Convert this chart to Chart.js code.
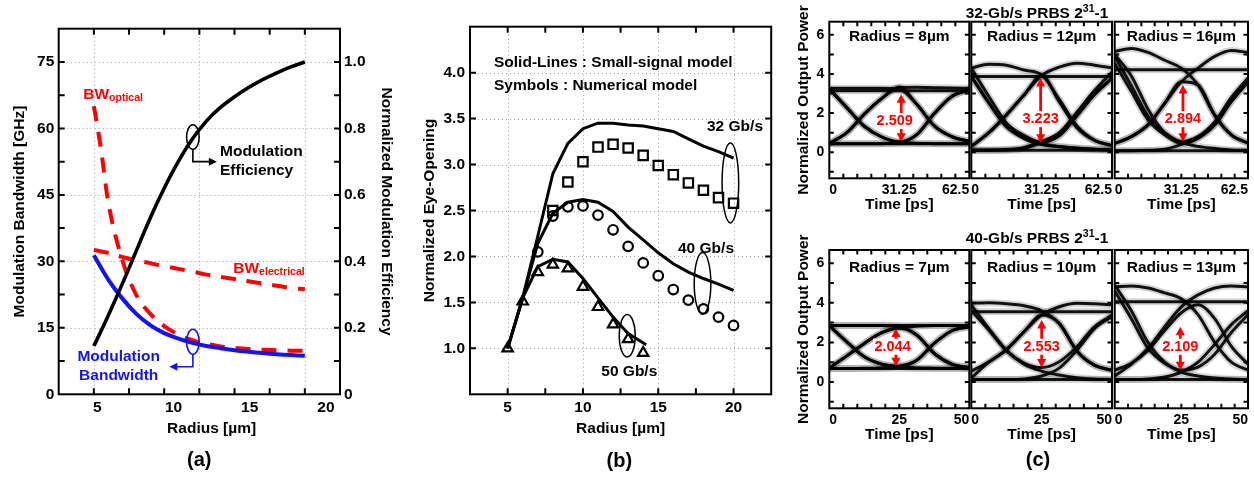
<!DOCTYPE html>
<html><head><meta charset="utf-8">
<script src="https://cdn.jsdelivr.net/npm/chart.js@4.4.1/dist/chart.umd.min.js"></script>
<style>
html,body{margin:0;padding:0;background:#fff;overflow:hidden;}
#wrap{position:relative;width:1254px;height:477px;background:#fff;overflow:hidden;}
canvas{position:absolute;display:block;}
</style></head>
<body><div id="wrap">
<canvas id="cA" width="420" height="477" style="left:0;top:0;width:420px;height:477px"></canvas>
<canvas id="cB" width="360" height="477" style="left:420px;top:0;width:360px;height:477px"></canvas>
<canvas id="e0" width="474" height="232" style="left:780px;top:0;width:474px;height:232px"></canvas>
<canvas id="e1" width="474" height="232" style="left:780px;top:0;width:474px;height:232px"></canvas>
<canvas id="e2" width="474" height="232" style="left:780px;top:0;width:474px;height:232px"></canvas>
<canvas id="e3" width="474" height="252" style="left:780px;top:225px;width:474px;height:252px"></canvas>
<canvas id="e4" width="474" height="252" style="left:780px;top:225px;width:474px;height:252px"></canvas>
<canvas id="e5" width="474" height="252" style="left:780px;top:225px;width:474px;height:252px"></canvas>
</div>
<script>
// ===================== DATA =====================
// Panel (a)
const radiusA = [5,6,7,8,9,10,11,12,13,14,15,16,17,18,19,20];
const modEfficiency = [0.145,0.235,0.33,0.43,0.53,0.62,0.70,0.768,0.822,0.863,0.895,0.923,0.947,0.967,0.985,1.0];
const modBandwidth = [31.4,26.0,21.7,18.2,15.6,13.8,12.6,11.6,10.9,10.4,9.95,9.6,9.3,9.05,8.85,8.7];
const radiusOptical = [5,5.5,6,7,8,9,10,11,12,13,14,15,16,17,18,19,20];
const bwOptical = [65,55.5,43.8,30.5,22.5,18.2,15.4,13.5,12.2,11.4,10.8,10.5,10.2,10.05,9.95,9.85,9.8];
const bwElectrical = [32.6,31.9,31.0,30.2,29.6,28.9,28.3,27.7,27.0,26.5,26.0,25.5,25.0,24.5,24.0,23.7];
const bwTicks = [0,15,30,45,60,75];
const bwMinorTicks = [7.5,15,22.5,30,37.5,45,52.5,60,67.5,75];
const effTicks = [0,0.2,0.4,0.6,0.8,1.0];
const radiusTicks = [5,10,15,20];
const radiusMinorTicks = [5,7.5,10,12.5,15,17.5,20];
const radiusGridA = [5,12.5,20];

// Panel (b)
const radiusB = [5,6,7,8,9,10,11,12,13,14,15,16,17,18,19,20];
const smallSignal32 = [1.0,1.55,2.22,2.90,3.23,3.39,3.45,3.45,3.43,3.42,3.39,3.36,3.28,3.20,3.14,3.07];
const smallSignal40 = [1.0,1.55,2.14,2.47,2.59,2.62,2.59,2.49,2.32,2.18,2.04,1.92,1.83,1.76,1.70,1.63];
const radius50 = [5,6,7,8,9,10,11,12,13,14.2];
const smallSignal50 = [1.0,1.55,1.89,1.97,1.94,1.76,1.55,1.34,1.16,1.04];
const radiusSquares = [8,9,10,11,12,13,14,15,16,17,18,19,20];
const numerical32 = [2.50,2.81,3.03,3.19,3.22,3.18,3.10,2.99,2.89,2.80,2.72,2.64,2.58];
const radiusCircles = [7,8,9,10,11,12,13,14,15,16,17,18,19,20];
const numerical40 = [2.05,2.44,2.54,2.55,2.45,2.29,2.11,1.93,1.79,1.64,1.525,1.43,1.34,1.25];
const radiusTriangles = [5,6,7,8,9,10,11,12,13,14];
const numerical50 = [1.0,1.51,1.83,1.91,1.87,1.67,1.45,1.26,1.10,0.95];
const eyeOpenTicks = [1.0,1.5,2.0,2.5,3.0,3.5,4.0];
const radiusGridB = [5,10,15,20];

// Panel (c) eye diagrams: each row of a trace list = one trace sampled on the time grid
const tGrid32 = [0,7.8125,15.625,23.4375,31.25,39.0625,46.875,54.6875,62.5];
const tGrid40 = [0,6.25,12.5,18.75,25,31.25,37.5,43.75,50];
const timeTicks32 = [0,6.25,12.5,18.75,25,31.25,37.5,43.75,50,56.25,62.5];
const timeLabels32 = [0,31.25,62.5];
const timeTicks40 = [0,5,10,15,20,25,30,35,40,45,50];
const timeLabels40 = [0,25,50];
const powerTicks = [-1,0,1,2,3,4,5,6];
const powerLabels = [0,2,4,6];

const eyeR8 = [
  [3.14,3.14,3.14,3.14,3.14,3.14,3.14,3.14,3.14],
  [0.43,0.43,0.43,0.43,0.43,0.43,0.43,0.43,0.43],
  [3.24,2.28,1.33,0.78,0.52,0.90,1.98,2.85,3.20],
  [0.45,1.00,1.95,2.75,3.33,2.45,1.35,0.80,0.55],
  [3.24,2.28,1.33,0.78,0.52,0.46,0.44,0.43,0.43],
  [0.45,1.00,1.95,2.75,3.30,3.32,3.30,3.28,3.27],
  [3.27,3.27,3.27,3.27,3.22,2.45,1.35,0.80,0.55],
  [0.43,0.43,0.43,0.44,0.50,0.90,1.98,2.85,3.20]
];
const eyeR12 = [
  [3.87,3.87,3.87,3.87,3.87,3.87,3.87,3.87,3.87],
  [0.10,0.10,0.10,0.10,0.10,0.10,0.10,0.10,0.10],
  [3.87,2.52,1.31,0.80,0.51,0.85,1.86,2.95,3.78],
  [0.30,1.00,1.91,2.93,3.92,2.58,1.25,0.60,0.34],
  [3.87,2.52,1.31,0.70,0.40,0.28,0.20,0.15,0.12],
  [0.30,1.00,1.91,2.93,3.92,4.35,4.55,4.45,4.30],
  [4.30,4.50,4.45,4.20,3.95,2.70,1.35,0.62,0.35],
  [0.10,0.10,0.12,0.20,0.50,0.85,1.86,2.95,3.78],
  [4.30,2.85,1.50,0.85,0.45,0.30,0.22,0.16,0.12],
  [0.12,0.12,0.14,0.25,0.55,1.00,2.05,3.15,4.10]
];
const eyeR16 = [
  [4.21,4.21,4.21,4.21,4.21,4.21,4.21,4.21,4.21],
  [0.08,0.08,0.08,0.08,0.08,0.08,0.08,0.08,0.08],
  [4.55,3.10,1.65,0.89,0.46,0.72,1.40,2.60,3.60],
  [0.45,0.80,1.40,2.50,3.60,3.44,1.90,0.89,0.46],
  [5.00,3.90,2.20,1.00,0.50,0.30,0.20,0.12,0.10],
  [0.45,0.80,1.40,2.50,3.60,4.30,4.90,5.20,5.10],
  [5.15,5.30,5.10,4.70,4.30,3.44,1.90,0.89,0.46],
  [0.08,0.08,0.10,0.15,0.40,0.72,1.40,2.60,3.60],
  [4.90,3.40,1.85,1.00,0.55,0.80,1.55,2.80,3.80]
];
const eyeR7 = [
  [2.85,2.85,2.85,2.85,2.85,2.85,2.85,2.85,2.85],
  [0.68,0.68,0.68,0.68,0.68,0.68,0.68,0.68,0.68],
  [2.85,2.03,1.27,0.90,0.80,1.10,1.95,2.59,2.79],
  [0.70,1.32,1.95,2.49,2.71,2.37,1.44,0.90,0.73],
  [2.85,2.03,1.27,0.90,0.78,0.72,0.70,0.69,0.68],
  [0.70,1.32,1.95,2.49,2.75,2.82,2.85,2.86,2.86],
  [2.85,2.85,2.86,2.85,2.80,2.37,1.44,0.90,0.73],
  [0.68,0.68,0.69,0.72,0.80,1.10,1.95,2.59,2.79]
];
const eyeR10 = [
  [3.55,3.55,3.55,3.55,3.55,3.55,3.55,3.55,3.55],
  [0.12,0.12,0.12,0.12,0.12,0.12,0.12,0.12,0.12],
  [3.60,2.62,1.57,0.96,0.73,1.02,1.78,2.79,3.38],
  [0.55,1.02,1.64,2.54,3.38,2.96,1.57,0.85,0.59],
  [3.90,2.70,1.60,0.90,0.55,0.35,0.22,0.15,0.13],
  [0.20,1.00,1.64,2.54,3.38,3.80,3.98,3.95,3.90],
  [3.98,4.00,3.95,3.85,3.60,2.96,1.57,0.85,0.59],
  [0.12,0.12,0.12,0.15,0.30,0.70,1.60,2.70,3.30]
];
const eyeR13 = [
  [4.05,4.05,4.05,4.05,4.05,4.05,4.05,4.05,4.05],
  [0.12,0.12,0.12,0.12,0.12,0.12,0.12,0.12,0.12],
  [4.60,3.20,1.70,0.95,0.60,0.75,1.40,2.50,3.40],
  [0.60,0.95,1.60,2.60,3.50,3.90,3.20,1.80,0.90],
  [4.90,3.60,2.00,1.00,0.50,0.30,0.20,0.15,0.12],
  [0.30,0.90,1.70,2.80,3.80,4.40,4.75,4.85,4.80],
  [4.80,4.85,4.75,4.50,4.20,3.40,2.00,1.00,0.60],
  [0.12,0.12,0.15,0.25,0.50,1.00,1.90,2.90,3.60]
];
const eyeTraces = [eyeR8, eyeR12, eyeR16, eyeR7, eyeR10, eyeR13];
const eyeRadiusLabels = ['Radius = 8\u00b5m','Radius = 12\u00b5m','Radius = 16\u00b5m','Radius = 7\u00b5m','Radius = 10\u00b5m','Radius = 13\u00b5m'];
const eyeOpeningLabels = ['2.509','3.223','2.894','2.044','2.553','2.109'];

// ===================== HELPERS =====================
const FF = "'Liberation Sans', Arial, Helvetica, sans-serif";
Chart.defaults.font.family = FF;
Chart.defaults.font.weight = 'bold';
Chart.defaults.color = '#000';
const F = (s) => ({family: FF, size: s, weight: 'bold', lineHeight: 1.2});
const xy = (xs, ys) => xs.map((x, i) => ({x: x, y: ys[i]}));
const fixedTicks = (vals) => (scale) => { scale.ticks = vals.map(v => ({value: v})); };
const noGrid = {display: false, drawTicks: false};
const noBorder = {display: false};
const RED = '#ff0000', BLUE = '#1414f0';

function txt(ctx, s, x, y, size, color, align, base) {
  ctx.save(); ctx.font = 'bold ' + size + 'px ' + FF; ctx.fillStyle = color || '#000';
  ctx.textAlign = align || 'center'; ctx.textBaseline = base || 'middle';
  ctx.fillText(s, x, y); ctx.restore();
}
function subTxt(ctx, main, sub, x, y, size, subSize, color, dy) {
  ctx.save(); ctx.fillStyle = color; ctx.textAlign = 'left'; ctx.textBaseline = 'alphabetic';
  ctx.font = 'bold ' + size + 'px ' + FF; ctx.fillText(main, x, y);
  const w = ctx.measureText(main).width;
  ctx.font = 'bold ' + subSize + 'px ' + FF; ctx.fillText(sub, x + w, y + dy); ctx.restore();
}
function supTitle(ctx, a, sup, b, cx, y, size, supSize, dy) {
  ctx.save(); ctx.fillStyle = '#000'; ctx.textAlign = 'left'; ctx.textBaseline = 'alphabetic';
  ctx.font = 'bold ' + size + 'px ' + FF; const wa = ctx.measureText(a).width, wb = ctx.measureText(b).width;
  ctx.font = 'bold ' + supSize + 'px ' + FF; const ws = ctx.measureText(sup).width;
  let x = cx - (wa + ws + wb) / 2;
  ctx.font = 'bold ' + size + 'px ' + FF; ctx.fillText(a, x, y); x += wa;
  ctx.font = 'bold ' + supSize + 'px ' + FF; ctx.fillText(sup, x, y - dy); x += ws;
  ctx.font = 'bold ' + size + 'px ' + FF; ctx.fillText(b, x, y); ctx.restore();
}
function ellipse(ctx, cx, cy, rx, ry, color, lw) {
  ctx.save(); ctx.strokeStyle = color; ctx.lineWidth = lw; ctx.setLineDash([]);
  ctx.beginPath(); ctx.ellipse(cx, cy, rx, ry, 0, 0, Math.PI * 2); ctx.stroke(); ctx.restore();
}
function head(ctx, x, y, dir, len, hw, color) {
  ctx.save(); ctx.fillStyle = color; ctx.beginPath();
  if (dir === 'up') { ctx.moveTo(x, y); ctx.lineTo(x - hw, y + len); ctx.lineTo(x + hw, y + len); }
  else if (dir === 'down') { ctx.moveTo(x, y); ctx.lineTo(x - hw, y - len); ctx.lineTo(x + hw, y - len); }
  else if (dir === 'left') { ctx.moveTo(x, y); ctx.lineTo(x + len, y - hw); ctx.lineTo(x + len, y + hw); }
  else { ctx.moveTo(x, y); ctx.lineTo(x - len, y - hw); ctx.lineTo(x - len, y + hw); }
  ctx.closePath(); ctx.fill(); ctx.restore();
}
function poly(ctx, pts, color, lw) {
  ctx.save(); ctx.strokeStyle = color; ctx.lineWidth = lw; ctx.setLineDash([]); ctx.beginPath();
  pts.forEach((p, i) => i ? ctx.lineTo(p[0], p[1]) : ctx.moveTo(p[0], p[1])); ctx.stroke(); ctx.restore();
}
function dottedGrid(chart, xs, xVals, ys, yVals) {
  const ctx = chart.ctx, a = chart.chartArea;
  ctx.save(); ctx.strokeStyle = '#9c9c9c'; ctx.lineWidth = 1; ctx.setLineDash([1, 3]); ctx.beginPath();
  for (const v of xVals) { const p = Math.round(xs.getPixelForValue(v)) + 0.5; ctx.moveTo(p, a.top); ctx.lineTo(p, a.bottom); }
  for (const v of yVals) { const p = Math.round(ys.getPixelForValue(v)) + 0.5; ctx.moveTo(a.left, p); ctx.lineTo(a.right, p); }
  ctx.stroke(); ctx.restore();
}
function frameTicks(chart, xs, xVals, ys, yVals, len, lw) {
  const ctx = chart.ctx, a = chart.chartArea;
  ctx.save(); ctx.strokeStyle = '#000'; ctx.lineWidth = lw || 2; ctx.setLineDash([]); ctx.beginPath();
  for (const v of xVals) { const p = xs.getPixelForValue(v); ctx.moveTo(p, a.bottom); ctx.lineTo(p, a.bottom - len); ctx.moveTo(p, a.top); ctx.lineTo(p, a.top + len); }
  for (const v of yVals) { const p = ys.getPixelForValue(v); ctx.moveTo(a.left, p); ctx.lineTo(a.left + len, p); ctx.moveTo(a.right, p); ctx.lineTo(a.right - len, p); }
  ctx.stroke();
  ctx.strokeRect(a.left, a.top, a.right - a.left, a.bottom - a.top);
  ctx.restore();
}
const baseOpts = {responsive: false, animation: false, devicePixelRatio: 1, events: []};
const noPlugins = {legend: {display: false}, tooltip: {enabled: false}};

// ===================== PANEL (a) =====================
const decoA = {
  id: 'decoA',
  beforeDatasetsDraw(chart) { dottedGrid(chart, chart.scales.x, radiusGridA, chart.scales.y, bwTicks.slice(1)); },
  afterDraw(chart) {
    const ctx = chart.ctx, x = chart.scales.x, y = chart.scales.y, y1 = chart.scales.y1, xl = chart.scales.xl;
    frameTicks(chart, x, radiusMinorTicks, y, bwMinorTicks, 6, 2);
    const ex = x.getPixelForValue(12.04), ey = y1.getPixelForValue(0.774);
    ellipse(ctx, ex, ey, 6.3, 12.3, '#000', 1.6);
    poly(ctx, [[ex, ey + 12.3], [ex, ey + 24.6], [ex + 17, ey + 24.6]], '#000', 1.6);
    head(ctx, ex + 24, ey + 24.6, 'right', 8, 4, '#000');
    txt(ctx, 'Modulation', 220, 151.7, 15.5, '#000', 'left');
    txt(ctx, 'Efficiency', 220, 170.7, 15.5, '#000', 'left');
    const bx = x.getPixelForValue(12.04), by = y.getPixelForValue(11.85);
    ellipse(ctx, bx, by, 6.3, 12.5, BLUE, 1.6);
    poly(ctx, [[bx, by + 12.5], [bx, by + 25], [bx - 16, by + 25]], BLUE, 1.6);
    head(ctx, bx - 23.5, by + 25, 'left', 8, 4, BLUE);
    txt(ctx, 'Modulation', 118.7, 356.7, 15.5, BLUE);
    txt(ctx, 'Bandwidth', 118.7, 375.7, 15.5, BLUE);
    subTxt(ctx, 'BW', 'optical', 83.3, 98.5, 15.5, 10.5, RED, 2);
    subTxt(ctx, 'BW', 'electrical', 233.3, 272.7, 15.5, 10.5, RED, 2);
    txt(ctx, 'Radius [\u00b5m]', xl.getPixelForValue(12.5), 428.3, 15.5, '#000');
    txt(ctx, '(a)', 199.3, 460, 20, '#000');
  }
};
new Chart(document.getElementById('cA'), {
  type: 'line',
  data: {datasets: [
    {data: xy(radiusA, modEfficiency), xAxisID: 'x', yAxisID: 'y1', borderColor: '#000', borderWidth: 3.6, pointRadius: 0, tension: 0.4},
    {data: xy(radiusA, modBandwidth), xAxisID: 'x', yAxisID: 'y', borderColor: BLUE, borderWidth: 4, pointRadius: 0, tension: 0.4},
    {data: xy(radiusOptical, bwOptical), xAxisID: 'x', yAxisID: 'y', borderColor: RED, borderWidth: 4, borderDash: [15, 11], pointRadius: 0, cubicInterpolationMode: 'monotone'},
    {data: xy(radiusA, bwElectrical), xAxisID: 'x', yAxisID: 'y', borderColor: RED, borderWidth: 4, borderDash: [15, 11], pointRadius: 0, tension: 0.4}
  ]},
  options: Object.assign({}, baseOpts, {
    layout: {padding: {left: 0, right: 0, top: 28.7, bottom: 0}},
    plugins: noPlugins,
    scales: {
      x: {type: 'linear', position: 'bottom', min: 2.5, max: 22.5, ticks: {display: false}, grid: noGrid, border: noBorder, afterFit(s) { s.height = 0; }},
      xl: {type: 'linear', position: 'bottom', min: 2.47, max: 20.92, afterBuildTicks: fixedTicks(radiusTicks),
           ticks: {font: F(15.5), color: '#000', padding: 4, maxRotation: 0, autoSkip: false}, grid: noGrid, border: noBorder, afterFit(s) { s.height = 82.7; }},
      y: {type: 'linear', position: 'left', min: 0, max: 82.5, afterBuildTicks: fixedTicks(bwTicks),
          ticks: {font: F(15.5), padding: 4.4, color: '#000'}, grid: noGrid, border: noBorder,
          title: {display: true, text: 'Modulation Bandwidth [GHz]', font: F(15.5), color: '#000', padding: {top: 10, bottom: 0}},
          afterFit(s) { s.width = 58.7; }},
      y1: {type: 'linear', position: 'right', min: 0, max: 1.1, afterBuildTicks: fixedTicks(effTicks),
           ticks: {font: F(15.5), padding: 4, color: '#000', callback: v => v === 0 ? '0' : v.toFixed(1)}, grid: noGrid, border: noBorder,
           title: {display: true, text: 'Normalized Modulation Efficiency', font: F(15.5), color: '#000', padding: {top: 24, bottom: 0}},
           afterFit(s) { s.width = 80; }}
    }
  }),
  plugins: [decoA]
});

// ===================== PANEL (b) =====================
const decoB = {
  id: 'decoB',
  beforeDatasetsDraw(chart) { dottedGrid(chart, chart.scales.x, radiusGridB, chart.scales.y, eyeOpenTicks); },
  afterDraw(chart) {
    const ctx = chart.ctx, x = chart.scales.x, y = chart.scales.y;
    frameTicks(chart, x, radiusMinorTicks, y, eyeOpenTicks, 6, 2);
    txt(ctx, 'Solid-Lines : Small-signal model', 74, 62.3, 15.5, '#000', 'left');
    txt(ctx, 'Symbols : Numerical model', 74, 86, 15.5, '#000', 'left');
    txt(ctx, '32 Gb/s', 315, 126.7, 15.5);
    txt(ctx, '40 Gb/s', 286, 248.3, 15.5);
    txt(ctx, '50 Gb/s', 209.3, 371.7, 15.5);
    ellipse(ctx, x.getPixelForValue(19.79), y.getPixelForValue(2.80), 8.3, 40, '#000', 1.5);
    ellipse(ctx, x.getPixelForValue(17.94), y.getPixelForValue(1.707), 8.3, 30.8, '#000', 1.5);
    ellipse(ctx, x.getPixelForValue(12.94), y.getPixelForValue(1.137), 8, 21.2, '#000', 1.5);
    txt(ctx, 'Radius [\u00b5m]', x.getPixelForValue(12.5), 428.3, 15.5);
    txt(ctx, '(b)', 199.3, 461.7, 20);
  }
};
const marker = (style, r) => ({showLine: false, pointStyle: style, pointRadius: r, pointBorderWidth: 2.2, pointBorderColor: '#000', pointBackgroundColor: 'rgba(0,0,0,0)', borderColor: '#000'});
new Chart(document.getElementById('cB'), {
  type: 'line',
  data: {datasets: [
    Object.assign({data: xy(radiusSquares, numerical32)}, marker('rect', 6.6)),
    Object.assign({data: xy(radiusCircles, numerical40)}, marker('circle', 4.8)),
    Object.assign({data: xy(radiusTriangles, numerical50)}, marker('triangle', 6)),
    {data: xy(radiusB, smallSignal32), borderColor: '#000', borderWidth: 3, pointRadius: 0, tension: 0},
    {data: xy(radiusB, smallSignal40), borderColor: '#000', borderWidth: 3, pointRadius: 0, tension: 0},
    {data: xy(radius50, smallSignal50), borderColor: '#000', borderWidth: 3, pointRadius: 0, tension: 0}
  ]},
  options: Object.assign({}, baseOpts, {
    layout: {padding: {left: 0, right: 3.3, top: 26.7, bottom: 0}},
    plugins: noPlugins,
    scales: {
      x: {type: 'linear', position: 'bottom', min: 2.5, max: 22.5, afterBuildTicks: fixedTicks(radiusTicks),
          ticks: {font: F(15.5), color: '#000', padding: 4, maxRotation: 0, autoSkip: false}, grid: noGrid, border: noBorder,
          afterFit(s) { s.height = 82.7; }},
      y: {type: 'linear', position: 'left', min: 0.5, max: 4.5, afterBuildTicks: fixedTicks(eyeOpenTicks),
          ticks: {font: F(15.5), color: '#000', padding: 5, callback: v => v.toFixed(1)}, grid: noGrid, border: noBorder,
          title: {display: true, text: 'Normalized Eye-Opening', font: F(15.5), color: '#000', padding: {top: 0.7, bottom: 0}},
          afterFit(s) { s.width = 50; }}
    }
  }),
  plugins: [decoB]
});

// ===================== PANEL (c) =====================
const eyePadLeft = [0, 191.3, 334.7, 0, 191.3, 334.7];
const eyePadRight = [284.7, 142, 6, 284.7, 142, 6];
const eyeArrowT = [32.1, 30.8, 32.0, 23.8, 25.0, 24.6];
const eyeArrowLo = [0.54, 0.49, 0.54, 0.79, 0.73, 0.59];
const eyeArrowHi = [2.97, 3.79, 3.44, 2.70, 3.13, 2.79];
const eyeLabelT = [29.2, 30.8, 32.0, 22.6, 25.0, 24.6];
const eyeLabelV = [1.60, 1.69, 1.69, 1.78, 1.78, 1.78];

function makeEye(k) {
  const top = k < 3;
  const tGrid = top ? tGrid32 : tGrid40;
  const tMax = top ? 62.5 : 50;
  const tTicks = top ? timeTicks32 : timeTicks40;
  const tLabels = top ? timeLabels32 : timeLabels40;
  const first = (k % 3) === 0;
  const deco = {
    id: 'decoE' + k,
    beforeDatasetsDraw(chart) { chart.ctx.save(); chart.ctx.filter = 'blur(0.6px)'; },
    afterDatasetsDraw(chart) { chart.ctx.restore(); },
    afterDraw(chart) {
      const ctx = chart.ctx, x = chart.scales.x, y = chart.scales.y, a = chart.chartArea;
      frameTicks(chart, x, tTicks.slice(1, -1), y, powerTicks, 4.5, 2);
      txt(ctx, eyeRadiusLabels[k], (a.left + a.right) / 2, a.top + (top ? 15 : 17.3), 15.5);
      const ax = x.getPixelForValue(eyeArrowT[k]);
      const yHi = y.getPixelForValue(eyeArrowHi[k]), yLo = y.getPixelForValue(eyeArrowLo[k]);
      poly(ctx, [[ax, yHi + 6], [ax, yLo - 6]], RED, 2.8);
      head(ctx, ax, yHi, 'up', 8.5, 4.6, RED);
      head(ctx, ax, yLo, 'down', 8.5, 4.6, RED);
      const lx = x.getPixelForValue(eyeLabelT[k]), ly = y.getPixelForValue(eyeLabelV[k]);
      ctx.save(); ctx.font = 'bold 14.5px ' + FF; const w = ctx.measureText(eyeOpeningLabels[k]).width;
      ctx.fillStyle = '#fff'; ctx.fillRect(lx - w / 2 - 1.5, ly - 8, w + 3, 16); ctx.restore();
      txt(ctx, eyeOpeningLabels[k], lx, ly, 14.5, RED);
      if (k === 1) supTitle(ctx, '32-Gb/s PRBS 2', '31', '-1', 257, 18.2, 15.5, 10.5, 6);
      if (k === 4) { supTitle(ctx, '40-Gb/s PRBS 2', '31', '-1', 257, 18, 15.5, 10.5, 6); txt(ctx, '(c)', 258, 235, 20); }
    }
  };
  const yScale = first ? {
    type: 'linear', position: 'left', min: -1.33, max: 6.67, afterBuildTicks: fixedTicks(powerLabels),
    ticks: {font: F(14), color: '#000', padding: 5}, grid: noGrid, border: noBorder,
    title: {display: true, text: 'Normalized Output Power', font: F(15.5), color: '#000', padding: {top: 14, bottom: 0}},
    afterFit(s) { s.width = 49.3; }
  } : {type: 'linear', position: 'left', min: -1.33, max: 6.67, display: false};
  const core = eyeTraces[k].map(tr => ({data: xy(tGrid, tr), borderColor: 'rgba(0,0,0,0.92)', borderWidth: 3, pointRadius: 0, cubicInterpolationMode: 'monotone'}));
  const halo = eyeTraces[k].map(tr => ({data: xy(tGrid, tr), borderColor: 'rgba(0,0,0,0.16)', borderWidth: 7, pointRadius: 0, cubicInterpolationMode: 'monotone'}));
  new Chart(document.getElementById('e' + k), {
    type: 'line',
    data: {datasets: core.concat(halo)},
    options: Object.assign({}, baseOpts, {
      layout: {padding: {left: eyePadLeft[k], right: eyePadRight[k], top: top ? 21.7 : 25, bottom: top ? 16.7 : 31.7}},
      plugins: noPlugins,
      scales: {
        x: {type: 'linear', position: 'bottom', min: 0, max: tMax, afterBuildTicks: fixedTicks(tTicks),
            ticks: {font: F(14), color: '#000', padding: 3, align: 'inner', maxRotation: 0, autoSkip: false,
                    callback: v => tLabels.indexOf(v) >= 0 ? String(v) : ''},
            grid: noGrid, border: noBorder,
            title: {display: true, text: 'Time [ps]', font: F(15.5), color: '#000', padding: {top: 0, bottom: 1}},
            afterFit(s) { s.height = 37; }},
        y: yScale
      }
    }),
    plugins: [deco]
  });
}
for (let k = 0; k < 6; k++) makeEye(k);
</script>
</body></html>
